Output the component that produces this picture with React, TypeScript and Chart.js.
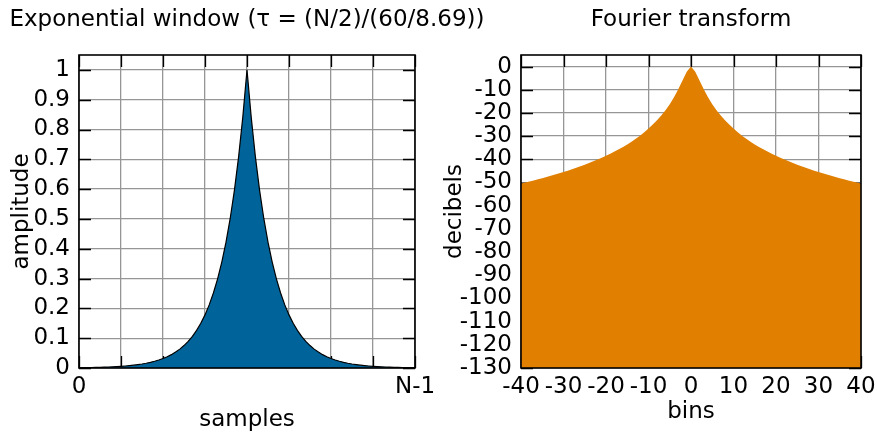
import React, { useEffect, useRef } from 'react';
import { Chart, registerables } from 'chart.js';
Chart.register(...registerables);

const FONT = "'DejaVu Sans', sans-serif";
const FS = 23;

const windowTitle = 'Exponential window (τ = (N/2)/(60/8.69))';
const spectrumTitle = 'Fourier transform';
const windowXLabel = 'samples';
const windowYLabel = 'amplitude';
const spectrumXLabel = 'bins';
const spectrumYLabel = 'decibels';

// amplitude of the window, 81 samples from n = 0 to n = N-1
const amplitude = [
  0.0010, 0.0012, 0.0014, 0.0017, 0.0020, 0.0024, 0.0028, 0.0034, 0.0040, 0.0047,
  0.0056, 0.0067, 0.0080, 0.0095, 0.0113, 0.0134, 0.0159, 0.0189, 0.0225, 0.0267,
  0.0317, 0.0377, 0.0448, 0.0533, 0.0633, 0.0752, 0.0894, 0.1062, 0.1262, 0.1500,
  0.1782, 0.2117, 0.2516, 0.2990, 0.3552, 0.4221, 0.5016, 0.5960, 0.7082, 0.8416,
  1.0000,
  0.8416, 0.7082, 0.5960, 0.5016, 0.4221, 0.3552, 0.2990, 0.2516, 0.2117, 0.1782,
  0.1500, 0.1262, 0.1062, 0.0894, 0.0752, 0.0633, 0.0533, 0.0448, 0.0377, 0.0317,
  0.0267, 0.0225, 0.0189, 0.0159, 0.0134, 0.0113, 0.0095, 0.0080, 0.0067, 0.0056,
  0.0047, 0.0040, 0.0034, 0.0028, 0.0024, 0.0020, 0.0017, 0.0014, 0.0012, 0.0010,
];
const sampleTickLabels: Record<string, string> = { '0': '0', '1': 'N-1' };

const bins = [
  -40, -39, -38, -37, -36, -35, -34, -33, -32, -31, -30, -29, -28, -27, -26, -25, -24, -23, -22, -21,
  -20, -19, -18, -17, -16, -15, -14, -13, -12, -11, -10, -9, -8, -7, -6, -5, -4, -3, -2, -1,
  0,
  1, 2, 3, 4, 5, 6, 7, 8, 9, 10, 11, 12, 13, 14, 15, 16, 17, 18, 19, 20,
  21, 22, 23, 24, 25, 26, 27, 28, 29, 30, 31, 32, 33, 34, 35, 36, 37, 38, 39, 40,
];
const decibels = [
  -50.44, -50.00, -49.55, -49.09, -48.62, -48.13, -47.63, -47.11, -46.58, -46.03,
  -45.46, -44.88, -44.27, -43.64, -42.99, -42.32, -41.61, -40.88, -40.11, -39.32,
  -38.48, -37.60, -36.67, -35.69, -34.66, -33.56, -32.39, -31.13, -29.79, -28.33,
  -26.74, -25.00, -23.09, -21.1, -18.8, -16.2, -13.2, -9.8, -6.0, -2.2,
  0,
  -2.2, -6.0, -9.8, -13.2, -16.2, -18.8, -21.1, -23.09, -25.00, -26.74,
  -28.33, -29.79, -31.13, -32.39, -33.56, -34.66, -35.69, -36.67, -37.60, -38.48,
  -39.32, -40.11, -40.88, -41.61, -42.32, -42.99, -43.64, -44.27, -44.88, -45.46,
  -46.03, -46.58, -47.11, -47.63, -48.13, -48.62, -49.09, -49.55, -50.00, -50.44,
];

const BLUE = 'rgb(0,100,155)';
const ORANGE = 'rgb(224,127,0)';
const GRID = 'rgb(150,150,150)';
const W = 877;
const H = 432;
const PLOT_TOP = 55;
const PLOT_BOTTOM = 368;

const gnuFrame = {
  id: 'gnuFrame',
  beforeDatasetsDraw(chart: any) {
    const { ctx, chartArea: a, scales } = chart;
    const L = 12;
    ctx.save();
    ctx.strokeStyle = '#000';
    ctx.lineWidth = 1.3;
    ctx.beginPath();
    scales.x.ticks.forEach((t: any) => {
      const px = Math.round(scales.x.getPixelForValue(t.value)) + 0.5;
      ctx.moveTo(px, a.bottom);
      ctx.lineTo(px, a.bottom - L);
      ctx.moveTo(px, a.top);
      ctx.lineTo(px, a.top + L);
    });
    scales.y.ticks.forEach((t: any) => {
      const py = Math.round(scales.y.getPixelForValue(t.value)) + 0.5;
      ctx.moveTo(a.left, py);
      ctx.lineTo(a.left + L, py);
      ctx.moveTo(a.right, py);
      ctx.lineTo(a.right - L, py);
    });
    ctx.stroke();
    ctx.restore();
  },
  afterDatasetsDraw(chart: any) {
    const { ctx, chartArea: a } = chart;
    ctx.save();
    ctx.strokeStyle = '#000';
    ctx.lineWidth = 1.6;
    ctx.strokeRect(a.left, a.top, a.right - a.left, a.bottom - a.top);
    ctx.restore();
  },
  afterDraw(chart: any, _args: any, opts: any) {
    const { ctx, chartArea: a } = chart;
    ctx.save();
    ctx.fillStyle = '#000';
    ctx.font = `${FS}px ${FONT}`;
    ctx.textAlign = 'center';
    ctx.textBaseline = 'middle';
    ctx.fillText(opts.title, (a.left + a.right) / 2, 20);
    ctx.restore();
  },
};

function axisCommon() {
  return {
    grid: { color: GRID, lineWidth: 1.3, drawTicks: false },
    border: { display: false },
  };
}

function makeConfig(p: {
  points: { x: number; y: number }[];
  fillColor: string;
  lineColor: string;
  lineWidth: number;
  title: string;
  xLabel: string;
  yLabel: string;
  xMin: number; xMax: number; xStep: number;
  yMin: number; yMax: number; yStep: number;
  xCallback: (v: number) => string;
  yCallback: (v: number) => string;
  plotLeft: number;
  rightPad: number;
  yTitlePad: number;
  xTitlePad: number;
}): any {
  const font = { family: FONT, size: FS };
  return {
    type: 'line',
    data: {
      datasets: [
        {
          data: p.points,
          fill: 'start',
          backgroundColor: p.fillColor,
          borderColor: p.lineColor,
          borderWidth: p.lineWidth,
          pointRadius: 0,
          tension: 0,
        },
      ],
    },
    options: {
      responsive: false,
      animation: false,
      events: [],
      layout: { padding: { top: PLOT_TOP, right: p.rightPad, left: 0, bottom: 0 } },
      plugins: {
        legend: { display: false },
        tooltip: { enabled: false },
        gnuFrame: { title: p.title },
      },
      scales: {
        x: {
          type: 'linear',
          min: p.xMin,
          max: p.xMax,
          ticks: {
            stepSize: p.xStep,
            autoSkip: false,
            maxRotation: 0,
            includeBounds: false,
            font,
            color: '#000',
            padding: 5,
            callback: p.xCallback,
          },
          title: {
            display: true,
            text: p.xLabel,
            font,
            color: '#000',
            padding: { top: 0, bottom: p.xTitlePad },
          },
          afterFit: (s: any) => {
            s.height = H - PLOT_BOTTOM;
            s.paddingLeft = 0;
            s.paddingRight = 0;
          },
          ...axisCommon(),
        },
        y: {
          type: 'linear',
          min: p.yMin,
          max: p.yMax,
          ticks: {
            stepSize: p.yStep,
            autoSkip: false,
            includeBounds: false,
            font,
            color: '#000',
            padding: 9,
            callback: p.yCallback,
          },
          title: {
            display: true,
            text: p.yLabel,
            font,
            color: '#000',
            padding: { top: p.yTitlePad, bottom: 0 },
          },
          afterFit: (s: any) => {
            s.width = p.plotLeft;
            s.paddingTop = 0;
            s.paddingBottom = 0;
          },
          ...axisCommon(),
        },
      },
    },
    plugins: [gnuFrame],
  };
}

export default function App() {
  const leftRef = useRef<HTMLCanvasElement | null>(null);
  const rightRef = useRef<HTMLCanvasElement | null>(null);

  useEffect(() => {
    const windowPoints = amplitude.map((y, i) => ({ x: i / (amplitude.length - 1), y }));
    const spectrumPoints = decibels.map((y, i) => ({ x: bins[i], y }));

    const left = new Chart(
      leftRef.current as HTMLCanvasElement,
      makeConfig({
        points: windowPoints,
        fillColor: BLUE,
        lineColor: '#000',
        lineWidth: 1.2,
        title: windowTitle,
        xLabel: windowXLabel,
        yLabel: windowYLabel,
        xMin: 0, xMax: 1, xStep: 0.125,
        yMin: 0, yMax: 1.05, yStep: 0.1,
        xCallback: (v: number) => sampleTickLabels[String(v)] ?? '',
        yCallback: (v: number) => String(Math.round(v * 10) / 10),
        plotLeft: 79,
        rightPad: W - 415,
        yTitlePad: 8.2,
        xTitlePad: -1.5,
      })
    );
    const right = new Chart(
      rightRef.current as HTMLCanvasElement,
      makeConfig({
        points: spectrumPoints,
        fillColor: ORANGE,
        lineColor: ORANGE,
        lineWidth: 0,
        title: spectrumTitle,
        xLabel: spectrumXLabel,
        yLabel: spectrumYLabel,
        xMin: -40, xMax: 40, xStep: 10,
        yMin: -130, yMax: 5, yStep: 10,
        xCallback: (v: number) => String(v),
        yCallback: (v: number) => String(v),
        plotLeft: 521 - 440,
        rightPad: 437 - (861 - 440),
        yTitlePad: 1.2,
        xTitlePad: 6,
      })
    );
    return () => {
      left.destroy();
      right.destroy();
    };
  }, []);

  return (
    <div style={{ position: 'absolute', left: 0, top: 0, width: W, height: H, background: '#fff' }}>
      <canvas
        ref={leftRef}
        width={W}
        height={H}
        style={{ position: 'absolute', left: 0, top: 0, width: W, height: H }}
      />
      <canvas
        ref={rightRef}
        width={W - 440}
        height={H}
        style={{ position: 'absolute', left: 440, top: 0, width: W - 440, height: H }}
      />
    </div>
  );
}
